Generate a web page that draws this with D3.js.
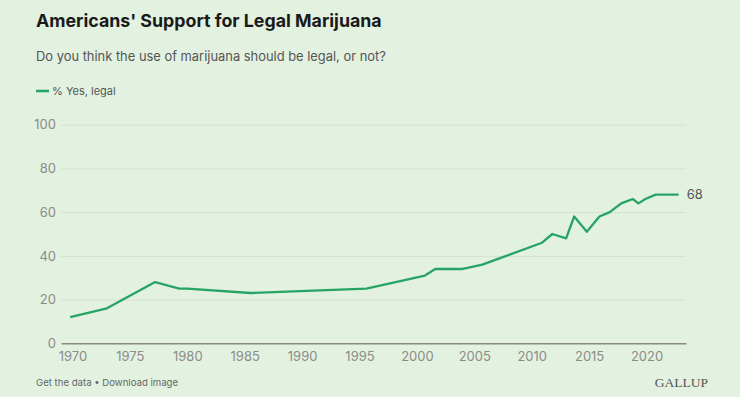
<!DOCTYPE html>
<html>
<head>
<meta charset="utf-8">
<script src="https://cdn.jsdelivr.net/npm/d3@7"></script>
<style>
  body { margin: 0; background: #e3f1e0; }
  svg { display: block; font-family: Inter, "Noto Sans", sans-serif; }
</style>
</head>
<body>
<svg id="chart" width="740" height="397"></svg>
<script>
// survey dates (decimal years) and % saying marijuana should be legal
const years = [1969.8, 1973.0, 1977.2, 1979.3, 1980.0, 1985.5, 1995.6, 2000.7, 2001.6, 2004.0,
  2005.7, 2010.9, 2011.8, 2013.0, 2013.7, 2014.8, 2015.9, 2016.8, 2017.8, 2018.8,
  2019.3, 2019.9, 2020.8, 2022.8];
const yesLegal = [12, 16, 28, 25, 25, 23, 25, 31, 34, 34,
  36, 46, 50, 48, 58, 51, 58, 60, 64, 66,
  64, 66, 68, 68];
const xTicks = [1970, 1975, 1980, 1985, 1990, 1995, 2000, 2005, 2010, 2015, 2020];
const yTicks = [0, 20, 40, 60, 80, 100];

const data = years.map((y, i) => ({ year: y, value: yesLegal[i] }));

const chartParams = {
  left: 61, right: 686, top: 124.7, bottom: 343.3,
  lineColor: '#27a465',
  gridColor: '#d3e2d0',
  axisColor: '#8a8a86',
  tickColor: '#8c8c8a'
};

const svg = d3.select('#chart');

const x = d3.scaleLinear().domain([1969, 2023.44]).range([chartParams.left, chartParams.right]);
const y = d3.scaleLinear().domain([0, 100]).range([chartParams.bottom, chartParams.top]);

// titles
svg.append('text').attr('x', 36).attr('y', 27.3)
  .attr('font-size', 17.8).attr('font-weight', 700).attr('fill', '#1a1a1a')
  .text("Americans' Support for Legal Marijuana");
svg.append('text').attr('x', 36).attr('y', 61)
  .attr('font-size', 12.9).attr('fill', '#555')
  .text('Do you think the use of marijuana should be legal, or not?');

// legend
svg.append('line').attr('x1', 36).attr('x2', 49).attr('y1', 91).attr('y2', 91)
  .attr('stroke', chartParams.lineColor).attr('stroke-width', 2.5);
svg.append('text').attr('x', 52).attr('y', 95)
  .attr('font-size', 11).attr('fill', '#555').text('% Yes, legal');

// y grid + labels
const yAxis = d3.axisLeft(y).tickValues(yTicks).tickSize(-(chartParams.right - chartParams.left)).tickPadding(5);
const gy = svg.append('g').attr('transform', `translate(${chartParams.left},0)`).call(yAxis);
gy.select('.domain').remove();
gy.selectAll('.tick line').attr('stroke', d => d === 0 ? 'none' : chartParams.gridColor).attr('stroke-width', 1);
gy.selectAll('.tick text').attr('font-size', 13).attr('fill', chartParams.tickColor)
  .attr('font-family', 'Inter, "Noto Sans", sans-serif');

// x axis
const xAxis = d3.axisBottom(x).tickValues(xTicks).tickFormat(d3.format('d')).tickSize(0).tickPadding(8);
const gx = svg.append('g').attr('transform', `translate(0,${chartParams.bottom})`).call(xAxis);
gx.select('.domain').attr('stroke', chartParams.axisColor).attr('stroke-width', 1.5);
gx.selectAll('.tick text').attr('font-size', 13).attr('fill', chartParams.tickColor)
  .attr('font-family', 'Inter, "Noto Sans", sans-serif');

// line
const line = d3.line().x(d => x(d.year)).y(d => y(d.value));
svg.append('path').datum(data).attr('d', line)
  .attr('fill', 'none').attr('stroke', chartParams.lineColor)
  .attr('stroke-width', 2.3).attr('stroke-linejoin', 'round');

// end label
const last = data[data.length - 1];
svg.append('text').attr('x', x(last.year) + 8).attr('y', y(last.value)).attr('dy', '0.35em')
  .attr('font-size', 13).attr('fill', '#555').text(last.value);

// footer
svg.append('text').attr('x', 36).attr('y', 386)
  .attr('font-size', 9.6).attr('fill', '#666').text('Get the data \u2022 Download image');
svg.append('text').attr('x', 708).attr('y', 387).attr('text-anchor', 'end')
  .attr('font-size', 13.5).attr('fill', '#555').attr('font-family', '"Liberation Serif", serif')
  .text('GALLUP');
</script>
</body>
</html>
